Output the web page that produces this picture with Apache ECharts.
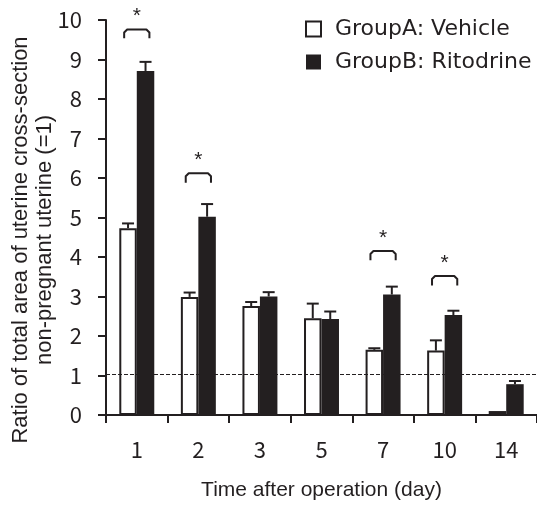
<!DOCTYPE html>
<html>
<head>
<meta charset="utf-8">
<script src="https://cdn.jsdelivr.net/npm/echarts@6/dist/echarts.min.js"></script>
<style>
html,body{margin:0;padding:0;background:#fff;}
#chart{width:537px;height:506px;}
</style>
</head>
<body>
<div id="chart"></div>
<script>
// ---- data ----
var categories = ['1', '2', '3', '5', '7', '10', '14'];
var groupA = [4.73, 2.99, 2.76, 2.45, 1.65, 1.63, 0.10];
var groupB = [8.71, 5.02, 3.00, 2.43, 3.05, 2.53, 0.78];
var groupAErrTop = [4.85, 3.10, 2.86, 2.82, 1.69, 1.89, null];
var groupBErrTop = [8.94, 5.34, 3.11, 2.62, 3.25, 2.64, 0.86];
var yTicks = [0, 1, 2, 3, 4, 5, 6, 7, 8, 9, 10];
var referenceLine = 1.04;
// significance brackets: category index, bracket top value, leg end value
var bracketCats = [0, 1, 4, 5];
var bracketTop = [9.76, 6.12, 4.15, 3.52];
var bracketLeg = [9.54, 5.88, 3.92, 3.28];

var INK = '#231f20';
var BAR_FRAC = 0.284;
var TICK_FONT = 'Noto Sans CJK JP';

var errData = [];
for (var i = 0; i < categories.length; i++) {
  if (groupAErrTop[i] != null) errData.push([i, 0, groupA[i], groupAErrTop[i]]);
  if (groupBErrTop[i] != null) errData.push([i, 1, groupB[i], groupBErrTop[i]]);
}
var bracketData = bracketCats.map(function (c, k) { return [c, bracketTop[k], bracketLeg[k]]; });

var chart = echarts.init(document.getElementById('chart'), null, {renderer: 'canvas'});

chart.setOption({
  animation: false,
  backgroundColor: '#fff',
  grid: {left: 106, right: 0, top: 20, bottom: 91, containLabel: false},
  legend: {
    data: ['GroupA: Vehicle', 'GroupB: Ritodrine'],
    orient: 'vertical',
    left: 305,
    top: 18,
    padding: 0,
    itemWidth: 15,
    itemHeight: 15,
    itemGap: 11,
    icon: 'rect',
    textStyle: {fontFamily: 'DejaVu Sans', fontSize: 22, color: INK, padding: [0, 0, 0, 9]}
  },
  xAxis: {
    type: 'category',
    data: categories,
    boundaryGap: true,
    name: 'Time after operation (day)',
    nameLocation: 'middle',
    nameGap: 65,
    nameTextStyle: {fontFamily: 'Liberation Sans', fontSize: 21, color: INK},
    axisLine: {lineStyle: {color: INK, width: 2}},
    axisTick: {show: true, inside: false, length: 8, lineStyle: {color: INK, width: 2}},
    axisLabel: {margin: 24, fontFamily: TICK_FONT, fontSize: 22, color: INK}
  },
  yAxis: {
    type: 'value',
    min: yTicks[0],
    max: yTicks[yTicks.length - 1],
    interval: 1,
    splitLine: {show: false},
    axisLine: {show: true, lineStyle: {color: INK, width: 2}},
    axisTick: {show: true, inside: false, length: 8, lineStyle: {color: INK, width: 2}},
    axisLabel: {margin: 24, fontFamily: TICK_FONT, fontSize: 22, color: INK}
  },
  graphic: [{
    type: 'text',
    x: 33,
    y: 240,
    rotation: Math.PI / 2,
    style: {
      text: 'Ratio of total area of uterine cross-section\nnon-pregnant uterine (=1)',
      fontFamily: 'Liberation Sans',
      fontSize: 22,
      lineHeight: 24.5,
      fill: INK,
      align: 'center',
      verticalAlign: 'middle'
    }
  }],
  series: [
    {
      name: 'GroupA: Vehicle',
      type: 'bar',
      data: groupA,
      barWidth: (BAR_FRAC * 100) + '%',
      barGap: '0%',
      itemStyle: {color: '#ffffff', borderColor: INK, borderWidth: 2},
      markLine: {
        silent: true,
        symbol: ['none', 'none'],
        label: {show: false},
        lineStyle: {color: INK, width: 1, type: [4, 2]},
        data: [{yAxis: referenceLine}]
      }
    },
    {
      name: 'GroupB: Ritodrine',
      type: 'bar',
      data: groupB,
      barWidth: (BAR_FRAC * 100) + '%',
      barGap: '0%',
      itemStyle: {color: INK, borderColor: INK, borderWidth: 0}
    },
    {
      name: 'errors',
      type: 'custom',
      data: errData,
      encode: {x: 0, y: 3},
      z: 3,
      renderItem: function (params, api) {
        var ci = api.value(0), g = api.value(1), v = api.value(2), e = api.value(3);
        var catW = api.size([1, 0])[0];
        var bw = catW * BAR_FRAC;
        var cx = api.coord([ci, 0])[0] + (g === 0 ? -bw / 2 : bw / 2);
        var yTop = api.coord([ci, e])[1];
        var yBar = api.coord([ci, v])[1];
        var st = {stroke: INK, lineWidth: 2};
        return {
          type: 'group',
          children: [
            {type: 'line', shape: {x1: cx, y1: yBar, x2: cx, y2: yTop}, style: st},
            {type: 'line', shape: {x1: cx - 6, y1: yTop, x2: cx + 6, y2: yTop}, style: st}
          ]
        };
      }
    },
    {
      name: 'brackets',
      type: 'custom',
      data: bracketData,
      encode: {x: 0, y: 1},
      clip: false,
      z: 3,
      renderItem: function (params, api) {
        var ci = api.value(0), top = api.value(1), leg = api.value(2);
        var catW = api.size([1, 0])[0];
        var half = catW * 0.205;
        var cx = api.coord([ci, 0])[0];
        var yT = api.coord([ci, top])[1];
        var yL = api.coord([ci, leg])[1];
        var r = 3;
        return {
          type: 'group',
          children: [
            {
              type: 'polyline',
              shape: {points: [
                [cx - half, yL], [cx - half, yT + r], [cx - half + r, yT],
                [cx + half - r, yT], [cx + half, yT + r], [cx + half, yL]
              ]},
              style: {stroke: INK, lineWidth: 2, fill: null, lineJoin: 'round'}
            },
            {
              type: 'text',
              x: cx,
              y: yT - 13,
              style: {text: '*', fontFamily: 'Liberation Sans', fontSize: 21, fill: INK, align: 'center', verticalAlign: 'middle'}
            }
          ]
        };
      }
    }
  ]
});
</script>
</body>
</html>
